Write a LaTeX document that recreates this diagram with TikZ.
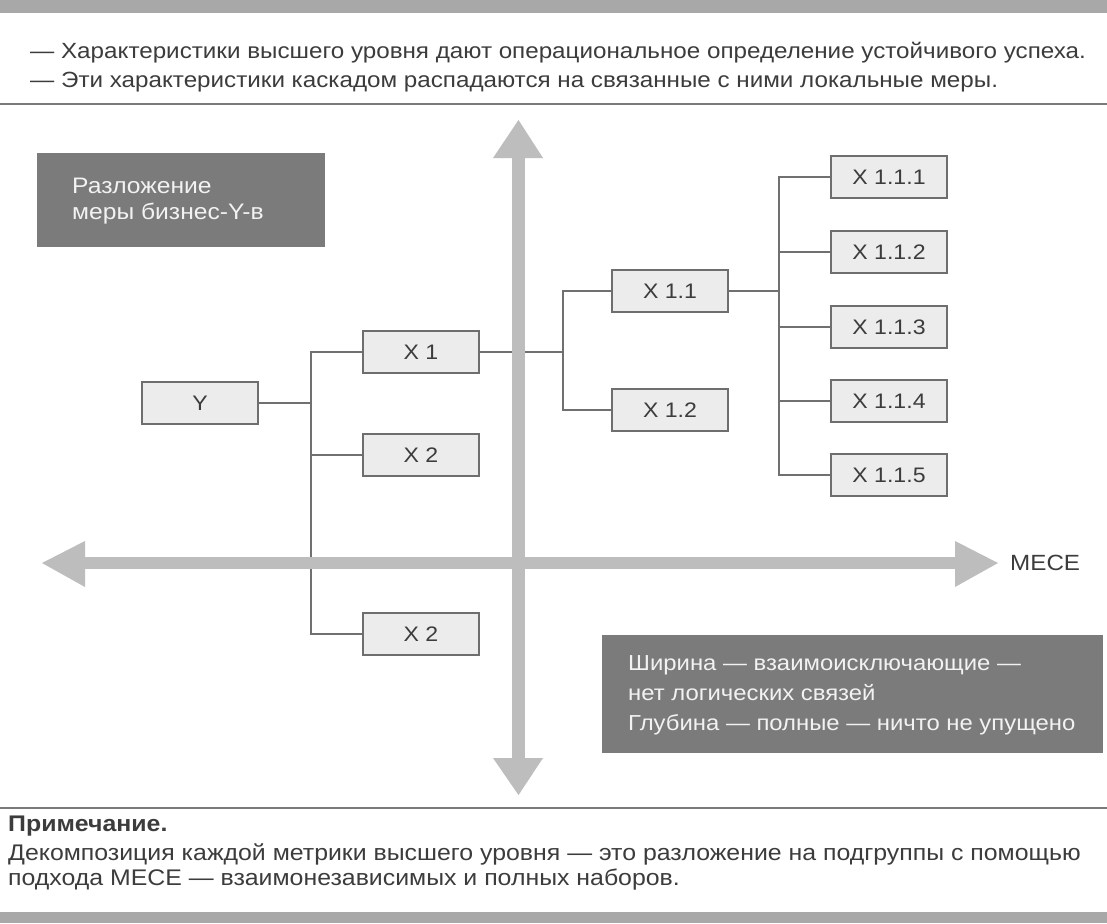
\documentclass[tikz,border=0pt]{standalone}
\usepackage{fontspec}
\setmainfont{Liberation Sans}[FakeStretch=1.1]
\definecolor{txt}{HTML}{3C3C3C}
\definecolor{nodefill}{HTML}{ECECEC}
\definecolor{nodeborder}{HTML}{6E6E6E}
\definecolor{linec}{HTML}{707070}
\definecolor{axisc}{HTML}{BDBDBD}
\definecolor{darkc}{HTML}{7B7B7B}
\definecolor{darktxt}{HTML}{F2F2F2}
\definecolor{bandc}{HTML}{A8A8A8}
\definecolor{sepc}{HTML}{7A7A7A}
\begin{document}
\begin{tikzpicture}[x=1pt,y=-1pt,
  nd/.style={draw=nodeborder, fill=nodefill, line width=1.4pt, minimum width=116pt, minimum height=42pt, inner sep=0pt, text=txt, font=\fontsize{21}{24}\selectfont},
  conn/.style={draw=linec, line width=1.4pt},
  axis/.style={fill=axisc, draw=none},
  darkbox/.style={fill=darkc, draw=none, anchor=north west, inner sep=0pt},
  darktext/.style={text=darktxt, align=left, anchor=west, inner sep=0pt},
  plain/.style={text=txt, anchor=west, inner sep=0pt, font=\fontsize{22}{26}\selectfont},
  notetext/.style={plain, font=\fontsize{22.6}{26}\selectfont}
]
\useasboundingbox (0,0) rectangle (1107,923);
\fill[white] (0,0) rectangle (1107,923);
% bands and separators
\fill[bandc] (0,0) rectangle (1107,13);
\fill[bandc] (0,912) rectangle (1107,923);
\draw[sepc, line width=1.5pt] (0,104) -- (1107,104);
\draw[sepc, line width=1.5pt] (0,808) -- (1107,808);
% header text
\node[plain] (h1) at (30,53) {— Характеристики высшего уровня дают операциональное определение устойчивого успеха.};
\node[plain] (h2) at (30,82) {— Эти характеристики каскадом распадаются на связанные с ними локальные меры.};
% note text
\node[notetext, font=\bfseries\fontsize{22.6}{26}\selectfont] (n1) at (8,826) {Примечание.};
\node[notetext] (n2) at (8,854) {Декомпозиция каждой метрики высшего уровня — это разложение на подгруппы с помощью};
\node[notetext] (n3) at (8,880) {подхода MECE — взаимонезависимых и полных наборов.};
% nodes
\node[nd] (Y) at (200,403) {Y};
\node[nd] (X1) at (421,352) {X 1};
\node[nd] (X2a) at (421,455) {X 2};
\node[nd] (X2b) at (421,634) {X 2};
\node[nd] (X11) at (670,291) {X 1.1};
\node[nd] (X12) at (670,410) {X 1.2};
\node[nd] (X111) at (889,177) {X 1.1.1};
\node[nd] (X112) at (889,252) {X 1.1.2};
\node[nd] (X113) at (889,327) {X 1.1.3};
\node[nd] (X114) at (889,401) {X 1.1.4};
\node[nd] (X115) at (889,475) {X 1.1.5};
\coordinate (b1) at (311,403);
\coordinate (b2) at (563,352);
\coordinate (b3) at (779,291);
% connectors
\draw[conn] (Y.east) -- (b1);
\draw[conn] (X1.west) -| (b1);
\draw[conn] (X2a.west) -| (b1);
\draw[conn] (X2b.west) -| (b1);
\draw[conn] (X1.east) -- (b2);
\draw[conn] (X11.west) -| (b2);
\draw[conn] (X12.west) -| (b2);
\draw[conn] (X11.east) -- (b3);
\draw[conn] (X111.west) -| (b3);
\draw[conn] (X112.west) -| (b3);
\draw[conn] (X113.west) -| (b3);
\draw[conn] (X114.west) -| (b3);
\draw[conn] (X115.west) -| (b3);
% axes
\fill[axis] (512,157) rectangle (525,759);
\fill[axis] (493,158) -- (543,158) -- (518.5,120) -- cycle;
\fill[axis] (493,758) -- (543,758) -- (518.5,795) -- cycle;
\fill[axis] (84,557) rectangle (956,569);
\fill[axis] (85,541) -- (85,587) -- (42,563) -- cycle;
\fill[axis] (955,541) -- (955,587) -- (998,563) -- cycle;
\node[plain] (mece) at (1010,563) {MECE};
% dark boxes
\node[darkbox, minimum width=288pt, minimum height=94pt] (d1) at (37,153) {};
\node[darktext, font=\fontsize{22.4}{26}\selectfont] (d1t) at (72,201) {Разложение\\меры бизнес-Y-в};
\node[darkbox, minimum width=501pt, minimum height=118pt] (d2) at (602,635) {};
\node[darktext, font=\fontsize{21.7}{30}\selectfont] (d2t) at (628,695) {Ширина — взаимоисключающие —\\нет логических связей\\Глубина — полные — ничто не упущено};
\end{tikzpicture}
\end{document}
